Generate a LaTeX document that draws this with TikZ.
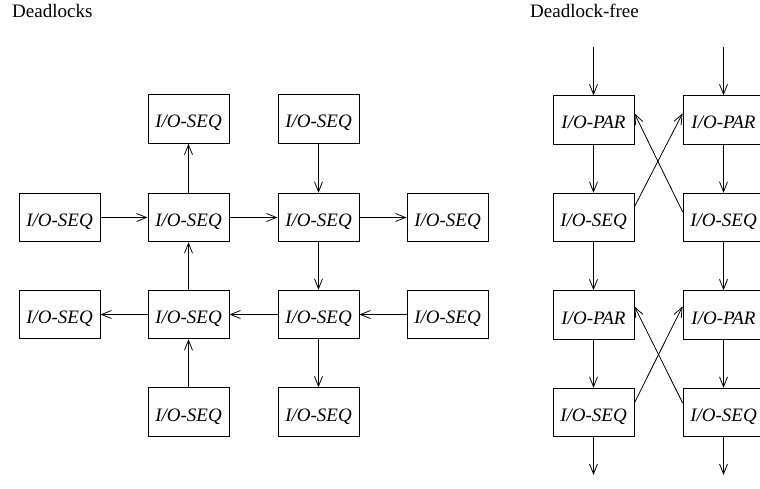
\documentclass[tikz,border=0pt]{standalone}
\usepackage{fontspec}
\setmainfont{Liberation Serif}
\usetikzlibrary{arrows.meta,calc}
\begin{document}
\begin{tikzpicture}[x=1pt,y=-1pt,
  unit/.style={draw, line width=0.8pt, minimum width=81pt, minimum height=48.5pt,
    inner sep=0pt, text height=18pt, text depth=0pt,
    font=\fontsize{19}{22}\selectfont\itshape},
  flow/.style={draw, line width=0.8pt,
    -{Straight Barb[length=10pt,width=8pt,line width=0.8pt]}},
  title/.style={anchor=base west, inner sep=0pt, font=\fontsize{19}{22}\selectfont}]
\useasboundingbox (0,0) rectangle (760,489);

% ---- titles
\node[title] (t-dl) at (12,18) {Deadlocks};
\node[title] (t-df) at (530,18) {Deadlock-free};

% ---- deadlocking grid
\node[unit] (a1) at (188.5,119) {I/O-SEQ};
\node[unit] (b1) at (318.5,119) {I/O-SEQ};
\node[unit] (w2) at (59.5,217.5) {I/O-SEQ};
\node[unit] (a2) at (188.5,217.5) {I/O-SEQ};
\node[unit] (b2) at (318.5,217.5) {I/O-SEQ};
\node[unit] (e2) at (447.5,217.5) {I/O-SEQ};
\node[unit] (w3) at (59.5,314.5) {I/O-SEQ};
\node[unit] (a3) at (188.5,314.5) {I/O-SEQ};
\node[unit] (b3) at (318.5,314.5) {I/O-SEQ};
\node[unit] (e3) at (447.5,314.5) {I/O-SEQ};
\node[unit] (a4) at (188.5,412) {I/O-SEQ};
\node[unit] (b4) at (318.5,412) {I/O-SEQ};

\draw[flow] (w2) -- (a2);
\draw[flow] (a2) -- (b2);
\draw[flow] (b2) -- (e2);
\draw[flow] (e3) -- (b3);
\draw[flow] (b3) -- (a3);
\draw[flow] (a3) -- (w3);
\draw[flow] (a2) -- (a1);
\draw[flow] (a3) -- (a2);
\draw[flow] (a4) -- (a3);
\draw[flow] (b1) -- (b2);
\draw[flow] (b2) -- (b3);
\draw[flow] (b3) -- (b4);

% ---- deadlock-free pipeline
\node[unit] (p1) at (593.5,120) {I/O-PAR};
\node[unit] (q1) at (723.5,120) {I/O-PAR};
\node[unit] (s1) at (593.5,217.5) {I/O-SEQ};
\node[unit] (t1) at (723.5,217.5) {I/O-SEQ};
\node[unit] (p2) at (593.5,315) {I/O-PAR};
\node[unit] (q2) at (723.5,315) {I/O-PAR};
\node[unit] (s2) at (593.5,412.5) {I/O-SEQ};
\node[unit] (t2) at (723.5,412.5) {I/O-SEQ};

\coordinate (in1) at (593.5,47);
\coordinate (in2) at (723.5,47);
\coordinate (out1) at (593.5,475);
\coordinate (out2) at (723.5,475);

\draw[flow] (in1) -- (p1);
\draw[flow] (in2) -- (q1);
\draw[flow] (p1) -- (s1);
\draw[flow] (q1) -- (t1);
\draw[flow] (s1) -- (p2);
\draw[flow] (t1) -- (q2);
\draw[flow] (p2) -- (s2);
\draw[flow] (q2) -- (t2);
\draw[flow] (s2) -- (out1);
\draw[flow] (t2) -- (out2);

% crossing links
\draw[flow] ($(s1.north east)+(0,14)$) -- ($(q1.north west)+(0,18)$);
\draw[flow] ($(t1.north west)+(0,19)$) -- ($(p1.north east)+(0,18)$);
\draw[flow] ($(s2.north east)+(0,15)$) -- ($(q2.north west)+(0,16)$);
\draw[flow] ($(t2.north west)+(0,15)$) -- ($(p2.north east)+(0,16)$);
\end{tikzpicture}
\end{document}
